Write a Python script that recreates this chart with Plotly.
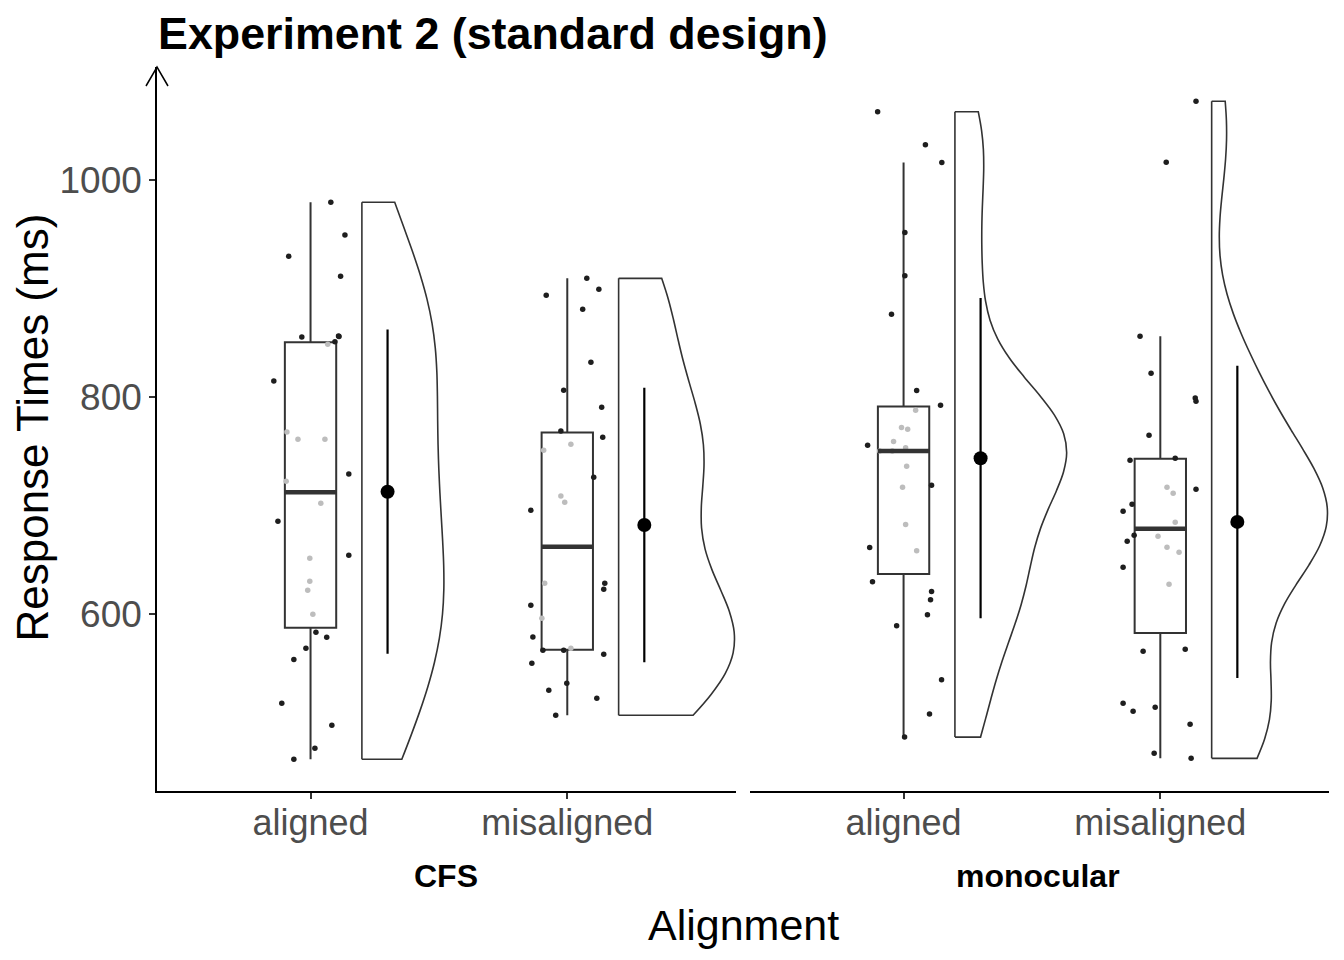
import numpy as np
import plotly.graph_objects as go

# ---------------- data ----------------
conditions = ["CFS", "monocular"]
alignments = ["aligned", "misaligned"]
y_tick_values = [600, 800, 1000]

cfs_aligned_rt = [979.2, 949.0, 929.4, 911.0, 855.9, 855.5, 855.0, 850.7, 848.3, 814.5,
                  767.5, 760.7, 760.7, 728.8, 722.0, 701.8, 685.2, 653.8, 651.1, 629.9,
                  621.6, 599.4, 582.9, 578.2, 568.1, 557.9, 517.4, 497.1, 476.0, 465.8]
cfs_aligned_jitter = [0.079, 0.134, -0.085, 0.117, 0.109, 0.111, -0.034, 0.095, 0.067, -0.143,
                      -0.092, -0.049, 0.056, 0.149, -0.095, 0.040, -0.127, 0.149, -0.003, -0.003,
                      -0.011, 0.009, 0.021, 0.063, -0.018, -0.065, -0.112, 0.083, 0.017, -0.065]

cfs_misaligned_rt = [909.1, 899.0, 893.5, 880.6, 831.7, 805.9, 790.2, 768.4, 762.6, 756.1,
                     750.6, 725.7, 708.5, 702.7, 695.3, 628.0, 628.0, 622.5, 607.7, 595.8,
                     578.5, 566.3, 566.3, 568.1, 562.6, 554.3, 535.9, 529.4, 522.0, 506.4]
cfs_misaligned_jitter = [0.076, 0.123, -0.082, 0.060, 0.092, -0.014, 0.134, -0.025, 0.138, 0.014,
                         -0.092, 0.103, -0.025, -0.010, -0.142, -0.088, 0.146, 0.142, -0.142, -0.099,
                         -0.134, -0.095, -0.014, 0.014, 0.142, -0.138, -0.002, -0.072, 0.115, -0.045]

mono_aligned_rt = [1062.7, 1032.3, 1015.9, 951.3, 911.4, 876.1, 805.8, 792.2, 787.6, 771.6,
                   770.1, 755.3, 758.7, 753.0, 749.9, 749.9, 735.9, 718.4, 716.5, 682.3,
                   661.0, 658.0, 629.5, 620.4, 612.8, 599.1, 588.9, 539.1, 507.6, 486.3]
mono_aligned_jitter = [-0.101, 0.085, 0.149, 0.005, 0.005, -0.047, 0.051, 0.144, 0.047, -0.008,
                       0.016, -0.140, -0.039, 0.008, -0.093, -0.044, 0.012, 0.109, -0.004, 0.008,
                       -0.132, 0.051, -0.121, 0.109, 0.105, 0.093, -0.027, 0.148, 0.101, 0.004]

mono_misaligned_rt = [1072.3, 1016.0, 855.7, 821.6, 798.8, 795.8, 764.4, 741.4, 743.2, 716.5,
                      711.0, 714.7, 700.8, 694.4, 684.2, 672.3, 666.7, 671.3, 661.2, 656.6,
                      642.8, 627.1, 565.3, 567.2, 517.4, 510.0, 513.7, 498.1, 471.3, 466.7]
mono_misaligned_jitter = [0.139, 0.023, -0.079, -0.036, 0.136, 0.139, -0.044, -0.118, 0.058, 0.026,
                          0.050, 0.139, -0.110, -0.145, 0.058, -0.102, -0.129, -0.009, 0.026, 0.073,
                          -0.145, 0.034, -0.067, 0.097, -0.145, -0.106, -0.020, 0.116, -0.024, 0.120]

groups = [
    ("x", 1, cfs_aligned_rt, cfs_aligned_jitter),
    ("x", 2, cfs_misaligned_rt, cfs_misaligned_jitter),
    ("x2", 1, mono_aligned_rt, mono_aligned_jitter),
    ("x2", 2, mono_misaligned_rt, mono_misaligned_jitter),
]

# ---------------- helpers ----------------
def bw_nrd0(v):
    v = np.asarray(v, float)
    sd = np.std(v, ddof=1)
    q1, q3 = np.percentile(v, [25, 75])
    lo = min(sd, (q3 - q1) / 1.34)
    return 0.9 * lo * len(v) ** -0.2


def kde_peak(v):
    v = np.asarray(v, float)
    bw = bw_nrd0(v)
    grid = np.linspace(v.min(), v.max(), 512)
    dens = np.exp(-0.5 * ((grid[:, None] - v[None, :]) / bw) ** 2).sum(1)
    return (dens / (len(v) * bw * np.sqrt(2 * np.pi))).max()


def box_stats(v):
    v = np.asarray(v, float)
    q1, med, q3 = np.percentile(v, [25, 50, 75])
    iqr = q3 - q1
    lo = v[v >= q1 - 1.5 * iqr].min()
    hi = v[v <= q3 + 1.5 * iqr].max()
    return q1, med, q3, lo, hi


FONT = "Liberation Sans, Arial, sans-serif"
LINE = "#333333"
BOX_W = 0.2
VIOLIN_NUDGE = 0.2
MEAN_NUDGE = 0.3
VIOLIN_MAX_W = 0.9

# area scaling is done within each facet panel (as ggplot does)
peaks = [kde_peak(g[2]) for g in groups]
panel_max = {}
for g, pk in zip(groups, peaks):
    panel_max[g[0]] = max(panel_max.get(g[0], 0), pk)

fig = go.Figure()

# jittered raw points; points covered by the translucent white box look faded
for xa, pos, vals, jit in groups:
    q1, med, q3, lo, hi = box_stats(vals)
    cols = ["#bdbdbd" if (q1 <= v <= q3 and abs(j) < BOX_W / 2) else "#1e1e1e"
            for v, j in zip(vals, jit)]
    fig.add_trace(go.Scatter(
        x=[pos + j for j in jit], y=vals, mode="markers", xaxis=xa, yaxis="y",
        marker=dict(size=5.5, color=cols), showlegend=False, hoverinfo="y"))

# boxplots
for xa, pos, vals, jit in groups:
    q1, med, q3, lo, hi = box_stats(vals)
    fig.add_trace(go.Box(
        x=[pos], q1=[q1], median=[med], q3=[q3], lowerfence=[lo], upperfence=[hi],
        width=BOX_W, whiskerwidth=0, boxpoints=False, xaxis=xa, yaxis="y",
        fillcolor="rgba(255,255,255,0)", line=dict(color=LINE, width=2),
        showlegend=False))
    # thick median line (ggplot fatten)
    fig.add_trace(go.Scatter(
        x=[pos - BOX_W / 2, pos + BOX_W / 2], y=[med, med], mode="lines",
        xaxis=xa, yaxis="y", line=dict(color=LINE, width=4.5),
        showlegend=False, hoverinfo="skip"))

# half violins
for (xa, pos, vals, jit), pk in zip(groups, peaks):
    fig.add_trace(go.Violin(
        x0=pos + VIOLIN_NUDGE, y=vals, side="positive",
        width=VIOLIN_MAX_W * pk / panel_max[xa],
        spanmode="hard", bandwidth=bw_nrd0(vals), points=False,
        box_visible=False, meanline_visible=False,
        scalemode="width", fillcolor="rgba(255,255,255,0)",
        line=dict(color=LINE, width=1.6), xaxis=xa, yaxis="y",
        showlegend=False, hoverinfo="skip"))
    fig.add_trace(go.Scatter(
        x=[pos + VIOLIN_NUDGE, pos + VIOLIN_NUDGE], y=[min(vals), max(vals)],
        mode="lines", xaxis=xa, yaxis="y", line=dict(color=LINE, width=1.6),
        showlegend=False, hoverinfo="skip"))

# mean +/- SD
for xa, pos, vals, jit in groups:
    v = np.asarray(vals, float)
    fig.add_trace(go.Scatter(
        x=[pos + MEAN_NUDGE], y=[v.mean()], mode="markers", xaxis=xa, yaxis="y",
        marker=dict(size=14, color="black"),
        error_y=dict(type="data", array=[v.std(ddof=1)], width=0, thickness=2.2,
                     color="black"),
        showlegend=False))

XR = [0.402, 2.657]
xaxis_common = dict(
    range=XR, tickmode="array", tickvals=[1, 2], ticktext=alignments,
    showline=True, linecolor="black", linewidth=1.5, ticks="outside",
    ticklen=6, tickwidth=1.5, tickcolor=LINE, showgrid=False, zeroline=False,
    ticklabelstandoff=-7,
    tickfont=dict(family=FONT, size=36, color="#4d4d4d"), fixedrange=True)

fig.update_layout(
    width=1328, height=944,
    margin=dict(l=149, r=7, t=59, b=161),
    paper_bgcolor="white", plot_bgcolor="white",
    boxmode="overlay", violinmode="overlay",
    xaxis=dict(domain=[0, 0.494], anchor="y", **xaxis_common),
    xaxis2=dict(domain=[0.506, 1], anchor="y", **xaxis_common),
    yaxis=dict(range=[436.6, 1103.9], tickmode="array", tickvals=y_tick_values,
               showline=True, linecolor="black", linewidth=1.5, ticks="outside",
               ticklen=6, tickwidth=1.5, tickcolor=LINE, showgrid=False,
               zeroline=False, anchor="x",
               tickfont=dict(family=FONT, size=37, color="#4d4d4d")),
    showlegend=False,
)

annotations = [
    dict(text="<b>Experiment 2 (standard design)</b>", x=-0.001, y=1.047,
         xref="paper", yref="paper", xanchor="left", yanchor="middle",
         showarrow=False, font=dict(family=FONT, size=44.8, color="black")),
    dict(text="Alignment", x=0.5004, y=-0.1851, xref="paper", yref="paper",
         xanchor="center", yanchor="middle", showarrow=False,
         font=dict(family=FONT, size=43, color="black")),
    dict(text="Response Times (ms)", x=-0.1058, y=0.502, xref="paper", yref="paper",
         xanchor="center", yanchor="middle", textangle=-90, showarrow=False,
         font=dict(family=FONT, size=44, color="black")),
]
for i, cond in enumerate(conditions):
    annotations.append(dict(
        text="<b>%s</b>" % cond, x=(0.247 if i == 0 else 0.7515), y=-0.1174,
        xref="paper", yref="paper", xanchor="center", yanchor="middle",
        showarrow=False, font=dict(family=FONT, size=32, color="black")))
fig.update_layout(annotations=annotations)

# open arrow head on top of the y axis line
fig.add_shape(type="path", xref="paper", yref="paper", xsizemode="pixel",
              ysizemode="pixel", xanchor=0, yanchor=1,
              path="M -11 -19 L 0 0 L 11 -19", line=dict(color="black", width=1.5))

fig.write_html("out.html")
